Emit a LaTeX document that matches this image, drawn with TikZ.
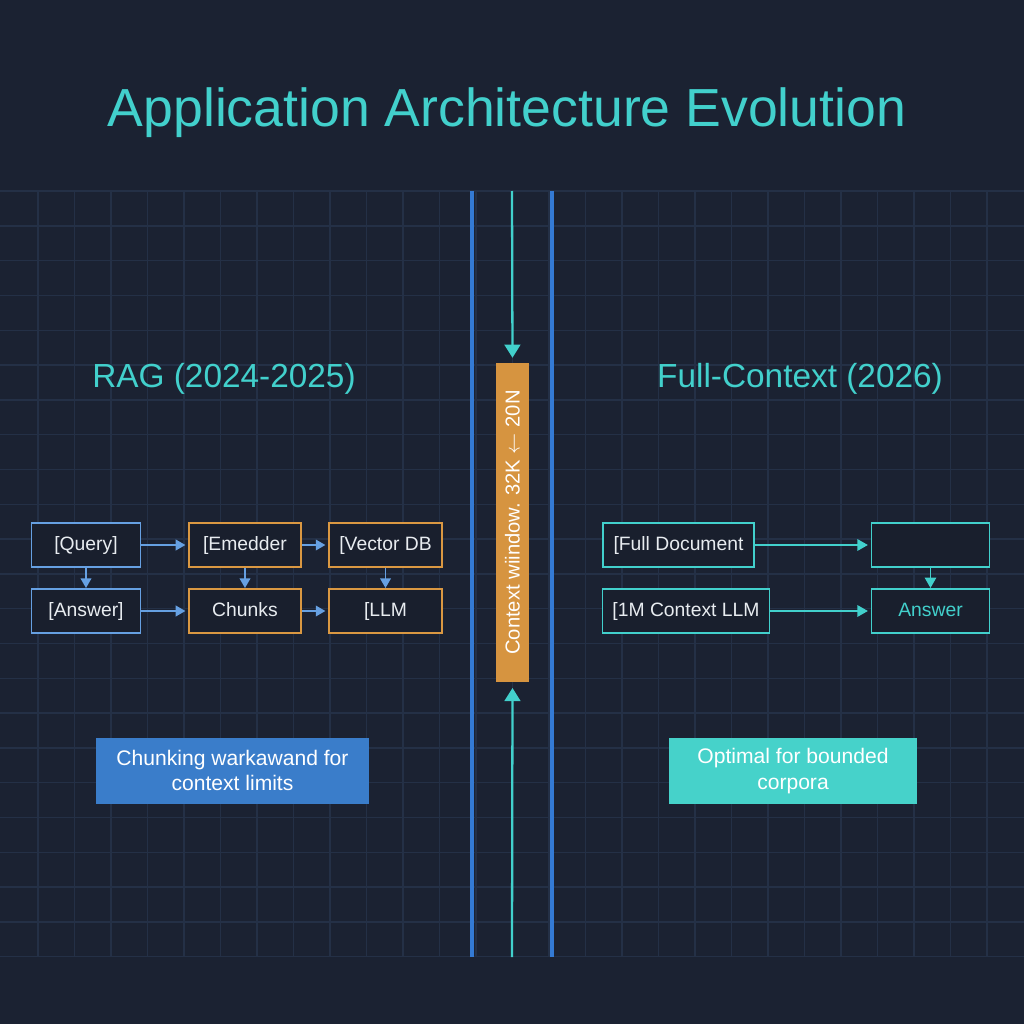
\documentclass[tikz,border=0pt]{standalone}
\usepackage{fontspec}
\setmainfont{Liberation Sans}
\usetikzlibrary{arrows.meta}
\definecolor{bgnavy}{RGB}{27,34,50}
\definecolor{boxfill}{RGB}{25,31,45}
\definecolor{gridline}{RGB}{36,48,70}
\definecolor{accentteal}{RGB}{66,208,204}
\definecolor{ragblue}{RGB}{102,160,226}
\definecolor{ragorange}{RGB}{218,152,66}
\definecolor{divblue}{RGB}{52,122,212}
\definecolor{ctxorange}{RGB}{214,148,64}
\definecolor{noteblue}{RGB}{58,125,202}
\definecolor{noteteal}{RGB}{70,210,202}
\definecolor{boxtext}{RGB}{232,236,240}
\begin{document}
\begin{tikzpicture}[
        x=0.02cm, y=-0.02cm,
        every node/.style={align=center, font=\fontsize{11}{13}\selectfont, text=boxtext},
        stage box/.style={rectangle, draw, line width=1.1pt, fill=boxfill, minimum height=0.88cm, inner sep=0pt, text height=8pt, text depth=2.2pt},
        rag box/.style={stage box, draw=ragblue},
        tool box/.style={stage box, draw=ragorange},
        full box/.style={stage box, draw=accentteal},
        note box/.style={rectangle, minimum height=1.32cm, inner sep=0pt, text=white, font=\fontsize{12}{14.5}\selectfont},
        heading/.style={text=accentteal, font=\fontsize{19}{22}\selectfont},
        rag arrow/.style={->, draw=ragblue, line width=1.1pt, >={Triangle[length=5.5pt,width=6pt]}},
        full arrow/.style={->, draw=accentteal, line width=1.1pt, >={Triangle[length=6pt,width=6.5pt]}},
        window arrow/.style={->, draw=accentteal, line width=1.3pt, >={Triangle[length=7.5pt,width=9pt]}}
    ]
        % Background and grid
        \useasboundingbox (0,0) rectangle (1024,1024);
        \fill[bgnavy] (-10,-10) rectangle (1034,1034);
        \foreach \gx in {1,...,27} {
            \draw[gridline, line width=0.8pt] (1.5+36.5*\gx,191) -- (1.5+36.5*\gx,957);
        }
        \foreach \gy in {0,...,22} {
            \draw[gridline, line width=0.8pt] (-10,191+34.8*\gy) -- (1034,191+34.8*\gy);
        }

        % Title
        \node[text=accentteal, font=\fontsize{30.5}{36}\selectfont] (title) at (507,113) {Application Architecture Evolution};

        % Divider
        \coordinate (div_l_top) at (472,191);
        \coordinate (div_l_bot) at (472,957);
        \coordinate (div_r_top) at (552,191);
        \coordinate (div_r_bot) at (552,957);
        \draw[divblue, line width=1.8pt] (div_l_top) -- (div_l_bot);
        \draw[divblue, line width=1.8pt] (div_r_top) -- (div_r_bot);

        \node[rectangle, fill=ctxorange, rotate=90, minimum width=6.38cm, minimum height=0.66cm, inner sep=0pt, text=white, font=\fontsize{11.5}{13}\selectfont] (ctx) at (512.5,522.5) {Context wiindow. 32K $\leftarrow$ 20N};
        \coordinate (win_top) at (512,191);
        \coordinate (win_bot) at (512,957);
        \draw[window arrow, shorten >=2.8pt] (win_top) -- (ctx.east);
        \draw[window arrow, shorten >=3.2pt] (win_bot) -- (ctx.west);

        % RAG side
        \node[heading] (rag_title) at (224,379) {RAG (2024-2025)};

        \node[rag box, minimum width=2.18cm] (query) at (86,545) {[Query]};
        \node[rag box, minimum width=2.18cm] (answer_rag) at (86,611) {[Answer]};
        \node[tool box, minimum width=2.24cm] (embedder) at (245,545) {[Emedder};
        \node[tool box, minimum width=2.24cm] (chunks) at (245,611) {Chunks};
        \node[tool box, minimum width=2.26cm] (vectordb) at (385.5,545) {[Vector DB};
        \node[tool box, minimum width=2.26cm] (llm) at (385.5,611) {[LLM};

        \draw[rag arrow, shorten >=1.5pt] (query) -- (embedder);
        \draw[rag arrow, shorten >=1.5pt] (embedder) -- (vectordb);
        \draw[rag arrow, shorten >=1.5pt] (answer_rag) -- (chunks);
        \draw[rag arrow, shorten >=1.5pt] (chunks) -- (llm);
        \draw[rag arrow] (query) -- (answer_rag);
        \draw[rag arrow] (embedder) -- (chunks);
        \draw[rag arrow] (vectordb) -- (llm);

        \node[note box, fill=noteblue, minimum width=5.46cm] (rag_note) at (232.5,770.7) {Chunking warkawand for\\context limits};

        % Full-context side
        \node[heading] (full_title) at (800,379) {Full-Context (2026)};

        \node[full box, minimum width=3.02cm] (full_doc) at (678.5,545) {[Full Document};
        \node[full box, minimum width=3.34cm] (ctx_llm) at (686,611) {[1M Context LLM};
        \node[full box, minimum width=2.36cm] (blank) at (930.5,545) {};
        \node[full box, minimum width=2.36cm, text=accentteal] (answer_full) at (930.5,611) {Answer};

        \draw[full arrow, shorten >=1.5pt] (full_doc) -- (blank);
        \draw[full arrow, shorten >=1.5pt] (ctx_llm) -- (answer_full);
        \draw[full arrow] (blank) -- (answer_full);

        \node[note box, fill=noteteal, minimum width=4.96cm] (full_note) at (793,771) {Optimal for bounded\\corpora};
\end{tikzpicture}
\end{document}
